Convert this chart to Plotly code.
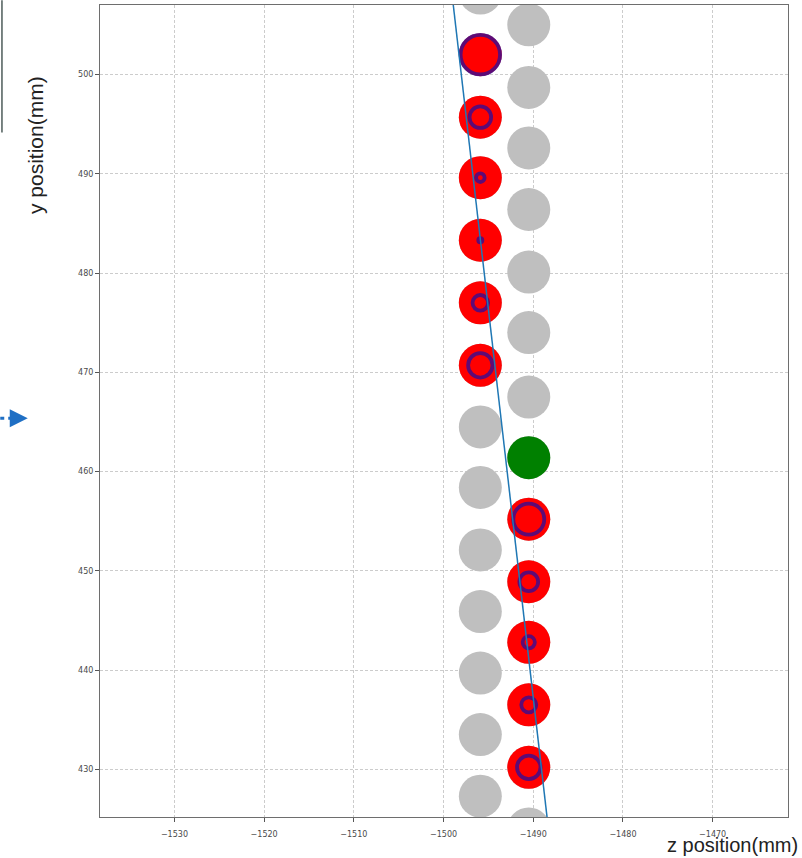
import plotly.graph_objects as go

# Tube layout: two staggered columns of drift tubes (z, y in mm)
left_col_z = -1495.9
right_col_z = -1490.5
left_col_y = [508.2, 502.0, 495.7, 489.6, 483.3, 477.0, 470.7,
              464.5, 458.4, 452.1, 445.9, 439.7, 433.5, 427.3]
right_col_y = [505.0, 498.7, 492.6, 486.4, 480.1, 474.0, 467.5,
               461.4, 455.2, 448.9, 442.8, 436.5, 430.2, 424.0]

# Hit tubes and their measured drift radii (mm)
hit_z = [-1495.9, -1495.9, -1495.9, -1495.9, -1495.9, -1495.9,
         -1490.5, -1490.5, -1490.5, -1490.5, -1490.5]
hit_y = [502.0, 495.7, 489.6, 483.3, 477.0, 470.7,
         455.2, 448.9, 442.8, 436.5, 430.2]
drift_r = [2.30, 1.35, 0.66, 0.42, 1.03, 1.50,
           1.85, 1.20, 0.85, 1.00, 1.45]

# Tube without a usable hit
dead_z = [-1490.5]
dead_y = [461.4]

# Fitted track
track_z = [-1499.3, -1487.8]
track_y = [510.0, 420.0]

x_ticks = [-1530, -1520, -1510, -1500, -1490, -1480, -1470]
y_ticks = [430, 440, 450, 460, 470, 480, 490, 500]

TUBE_PX = 43          # marker diameter of a tube, px
PX_PER_MM = 9.4       # scale used for drift circles
RING_W = 3.8
RING_COLOR = "#1a0ea6"

all_z = [left_col_z] * len(left_col_y) + [right_col_z] * len(right_col_y)
all_y = left_col_y + right_col_y

fig = go.Figure()

fig.add_trace(go.Scatter(
    x=all_z, y=all_y, mode="markers",
    marker=dict(size=TUBE_PX, color="#bfbfbf", line=dict(width=0)),
    hoverinfo="skip", showlegend=False))

fig.add_trace(go.Scatter(
    x=hit_z, y=hit_y, mode="markers",
    marker=dict(size=TUBE_PX, color="#ff0000", line=dict(width=0)),
    showlegend=False))

fig.add_trace(go.Scatter(
    x=dead_z, y=dead_y, mode="markers",
    marker=dict(size=TUBE_PX, color="#008000", line=dict(width=0)),
    showlegend=False))

ring_sizes = [max(2 * r * PX_PER_MM - RING_W, 1.5) for r in drift_r]
fig.add_trace(go.Scatter(
    x=hit_z, y=hit_y, mode="markers",
    marker=dict(symbol="circle-open", size=ring_sizes,
                color=RING_COLOR, line=dict(width=RING_W, color=RING_COLOR)),
    showlegend=False))

fig.add_trace(go.Scatter(
    x=track_z, y=track_y, mode="lines",
    line=dict(color="#1f77b4", width=1.5),
    showlegend=False))

axis_common = dict(
    showgrid=True, gridcolor="#cccccc", gridwidth=0.8, griddash="3px,2px",
    showline=True, mirror=True, linecolor="#6e6e6e", linewidth=1,
    ticks="outside", ticklen=4, tickcolor="#555555", tickwidth=1,
    zeroline=False,
    tickfont=dict(family="DejaVu Sans", size=8, color="#4a4a4a"),
)

fig.update_layout(
    width=802, height=858,
    margin=dict(l=100, r=14, t=5, b=41),
    paper_bgcolor="white", plot_bgcolor="white",
    xaxis=dict(range=[-1538.3, -1461.6], tickvals=x_ticks,
               ticklabelstandoff=5, **axis_common),
    yaxis=dict(range=[425.2, 507.0], tickvals=y_ticks, **axis_common),
    annotations=[
        dict(text="y position(mm)", xref="paper", yref="paper",
             x=-0.094, y=0.828, xanchor="center", yanchor="middle",
             textangle=-90, showarrow=False,
             font=dict(family="Liberation Sans", size=21, color="#222222")),
        dict(text="z position(mm)", xref="paper", yref="paper",
             x=1.018, y=-0.0505, xanchor="right", yanchor="bottom",
             showarrow=False,
             font=dict(family="Liberation Sans", size=20, color="#222222")),
        dict(text="", xref="paper", yref="paper",
             x=-0.105, y=0.491, ax=-11, ay=0, showarrow=True,
             arrowhead=2, arrowsize=1.2, arrowwidth=3, arrowcolor="#1f6fc4"),
    ],
    shapes=[
        dict(type="line", xref="paper", yref="paper",
             x0=-0.145, x1=-0.124, y0=0.491, y1=0.491,
             line=dict(color="#1f6fc4", width=3, dash="4px,4px")),
        dict(type="line", xref="paper", yref="paper",
             x0=-0.1425, x1=-0.1425, y0=1.006, y1=0.843,
             line=dict(color="#4d5c5a", width=1.5)),
    ],
)

fig.write_html("out.html")
